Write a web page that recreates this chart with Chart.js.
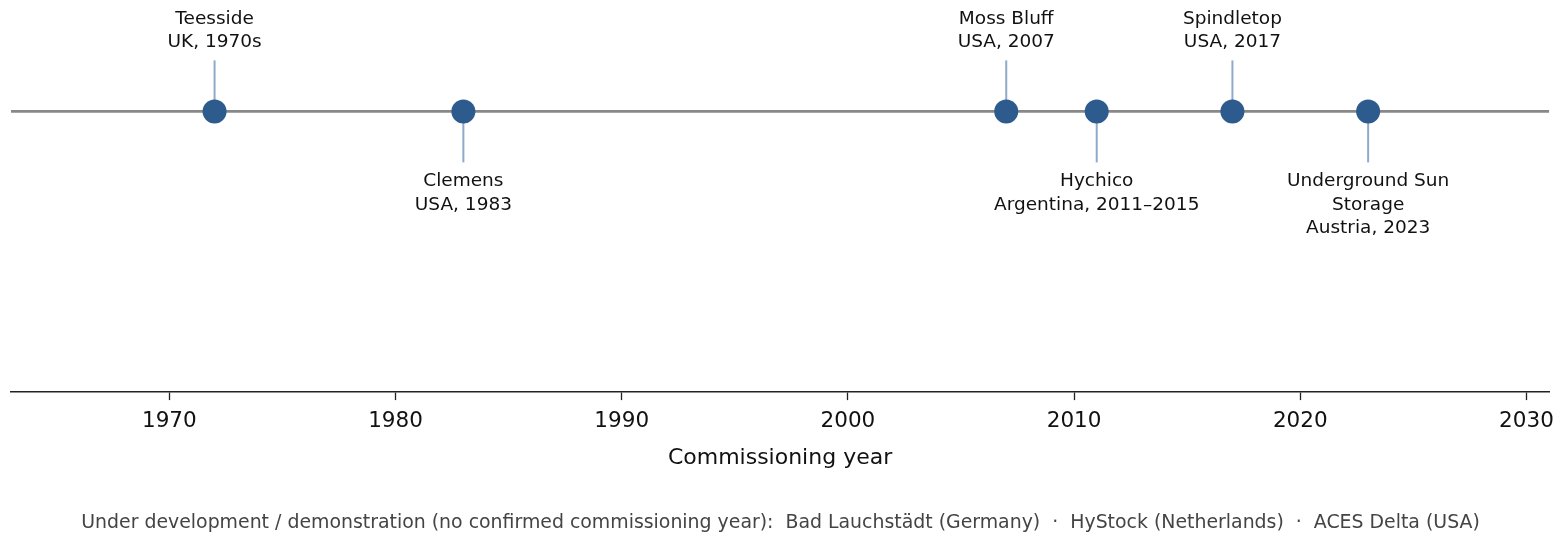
<!DOCTYPE html>
<html>
<head>
<meta charset="utf-8">
<script src="https://cdn.jsdelivr.net/npm/chart.js@4.4.1/dist/chart.umd.min.js"></script>
<style>
  html, body { margin: 0; padding: 0; background: #ffffff; }
  #wrap { width: 1562px; height: 542px; }
</style>
</head>
<body>
<div id="wrap"><canvas id="timeline"></canvas></div>
<script>
// Timeline data: commissioning year, name, detail line(s), label side
const years = [1972, 1983, 2007, 2011, 2017, 2023];
const names = [['Teesside'], ['Clemens'], ['Moss Bluff'], ['Hychico'], ['Spindletop'], ['Underground Sun', 'Storage']];
const details = ['UK, 1970s', 'USA, 1983', 'USA, 2007', 'Argentina, 2011\u20132015', 'USA, 2017', 'Austria, 2023'];
const sides = ['up', 'down', 'up', 'down', 'up', 'down'];

const tickYears = [1970, 1980, 1990, 2000, 2010, 2020, 2030];
const xMin = 1963;
const xMax = 2031;
const axisTitle = 'Commissioning year';
const footnote = 'Under development / demonstration (no confirmed commissioning year):  Bad Lauchst\u00e4dt (Germany)  \u00b7  HyStock (Netherlands)  \u00b7  ACES Delta (USA)';

const FONT = 'DejaVu Sans';

// Baseline, stems and text annotations drawn against the chart's own scales
const timelinePlugin = {
    id: 'timeline',
    beforeDatasetsDraw(chart) {
        const { ctx, chartArea, scales } = chart;
        const y0 = scales.y.getPixelForValue(0);
        ctx.save();
        ctx.strokeStyle = '#888888';
        ctx.lineWidth = 2.8;
        ctx.beginPath();
        ctx.moveTo(chartArea.left, y0);
        ctx.lineTo(chartArea.right, y0);
        ctx.stroke();

        ctx.strokeStyle = '#8fa9c8';
        ctx.lineWidth = 2;
        years.forEach((yr, i) => {
            const x = scales.x.getPixelForValue(yr);
            const dir = sides[i] === 'up' ? -1 : 1;
            ctx.beginPath();
            ctx.moveTo(x, y0);
            ctx.lineTo(x, y0 + dir * 51);
            ctx.stroke();
        });
        ctx.restore();
    },
    afterDatasetsDraw(chart) {
        const { ctx, scales } = chart;
        const y0 = scales.y.getPixelForValue(0);
        const lineH = 23.3;
        ctx.save();
        ctx.font = '18.5px "' + FONT + '"';
        ctx.fillStyle = '#111111';
        ctx.textAlign = 'center';
        ctx.textBaseline = 'middle';
        years.forEach((yr, i) => {
            const x = scales.x.getPixelForValue(yr);
            const lines = names[i].concat([details[i]]);
            if (sides[i] === 'up') {
                const last = y0 - 51 - 18;
                lines.forEach((t, k) => {
                    ctx.fillText(t, x, last - (lines.length - 1 - k) * lineH);
                });
            } else {
                const first = y0 + 51 + 19;
                lines.forEach((t, k) => {
                    ctx.fillText(t, x, first + k * lineH);
                });
            }
        });
        ctx.restore();
    }
};

new Chart(document.getElementById('timeline').getContext('2d'), {
    type: 'scatter',
    data: {
        datasets: [{
            label: 'Facilities',
            data: years.map(yr => ({ x: yr, y: 0 })),
            backgroundColor: '#2e5b8e',
            borderColor: '#2e5b8e',
            borderWidth: 0,
            pointRadius: 12,
            pointHoverRadius: 12
        }]
    },
    options: {
        responsive: true,
        maintainAspectRatio: false,
        animation: false,
        layout: { autoPadding: false, padding: { left: 11, right: 12, top: 0, bottom: 0 } },
        scales: {
            x: {
                type: 'linear',
                min: xMin,
                max: xMax,
                afterBuildTicks: (scale) => {
                    scale.ticks = tickYears.map(v => ({ value: v }));
                },
                grid: {
                    drawOnChartArea: false,
                    drawTicks: true,
                    tickLength: 8,
                    tickColor: '#222222',
                    tickWidth: 1.3
                },
                border: { display: true, color: '#222222', width: 1.5 },
                ticks: {
                    color: '#111111',
                    font: { family: FONT, size: 21.5 },
                    padding: 8,
                    maxRotation: 0,
                    callback: (v) => String(v)
                },
                title: {
                    display: true,
                    text: axisTitle,
                    color: '#111111',
                    font: { family: FONT, size: 22 },
                    padding: { top: 3, bottom: 4 }
                }
            },
            y: {
                display: false,
                min: -2.52,
                max: 1
            }
        },
        plugins: {
            legend: { display: false },
            tooltip: { enabled: false },
            title: {
                display: true,
                position: 'bottom',
                text: footnote,
                color: '#444444',
                font: { family: FONT, size: 18.9, weight: 'normal' },
                padding: { top: 36, bottom: 8 }
            }
        }
    },
    plugins: [timelinePlugin]
});
</script>
</body>
</html>
